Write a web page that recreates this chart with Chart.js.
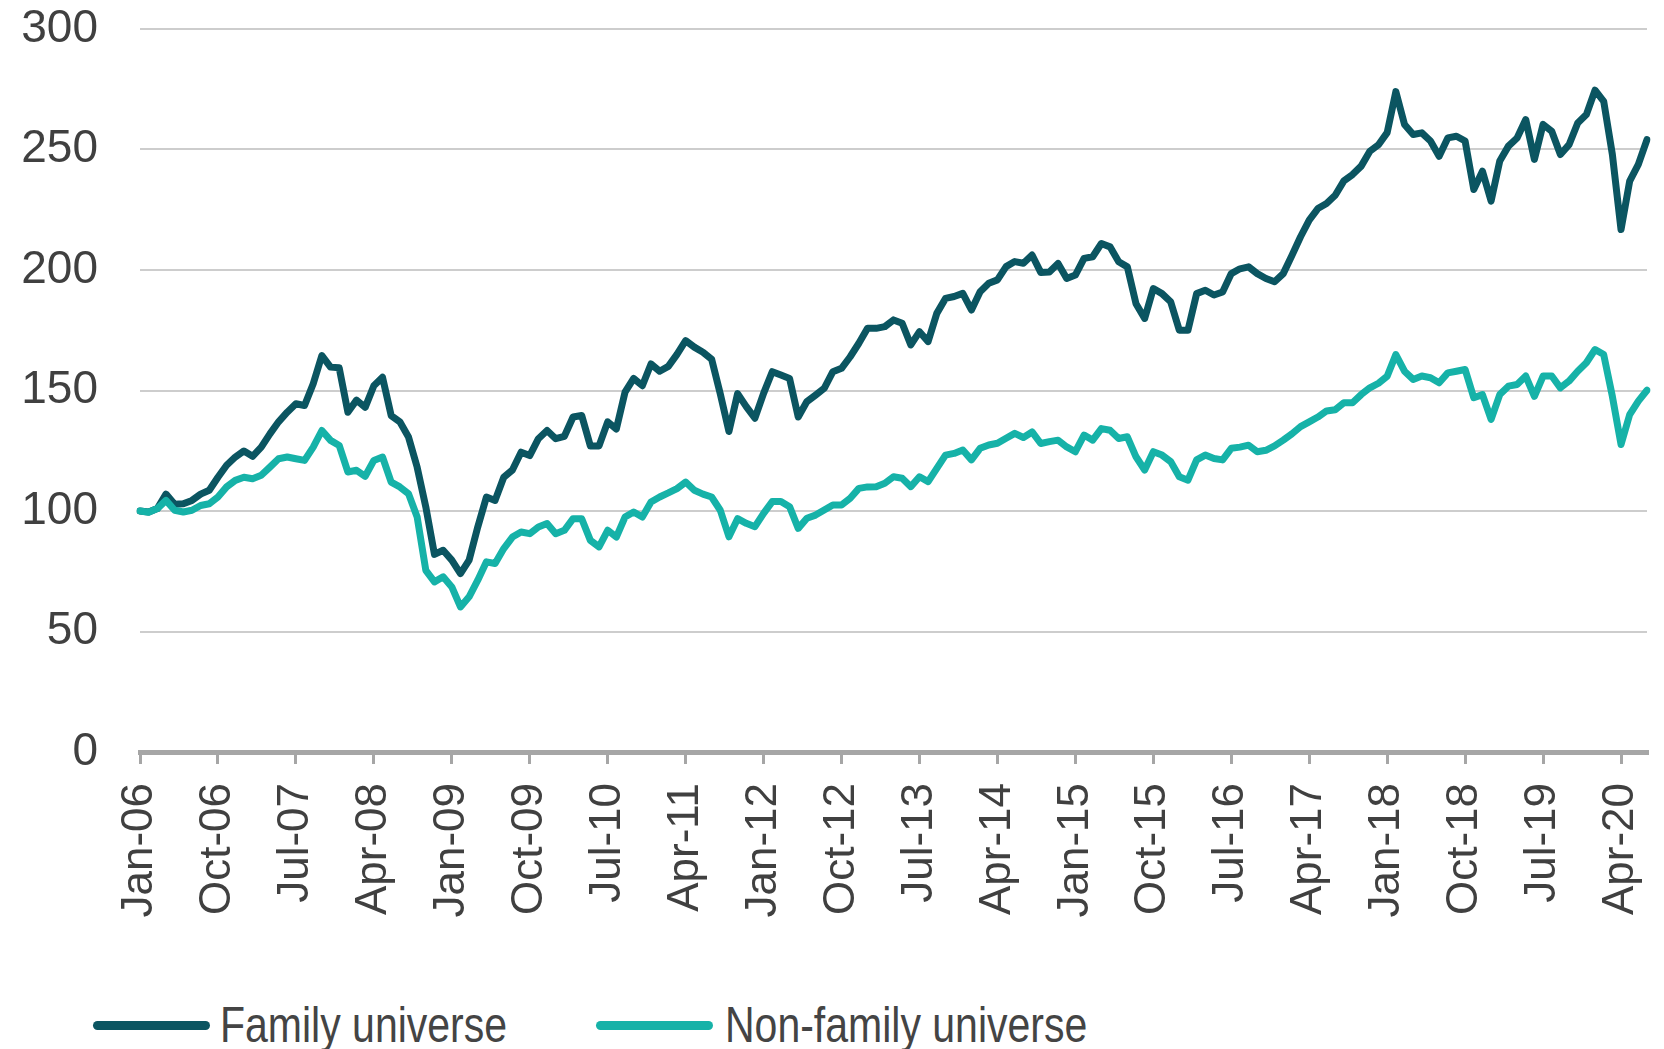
<!DOCTYPE html>
<html>
<head>
<meta charset="utf-8">
<script src="https://cdn.jsdelivr.net/npm/chart.js@4.4.1/dist/chart.umd.min.js"></script>
<style>
    html, body { margin: 0; padding: 0; background: #fff; }
    body { width: 1664px; height: 1049px; position: relative; overflow: hidden; }
    #wrap { position: absolute; left: 0; top: 0; width: 1664px; height: 960px; }
    .legend-text {
        position: absolute;
        font-family: 'Liberation Sans', Arial, sans-serif;
        font-size: 50px;
        line-height: 50px;
        color: #444;
        white-space: nowrap;
        transform: scaleX(0.82);
        transform-origin: 0 0;
    }
    .swatch { position: absolute; height: 9px; border-radius: 5px; }
</style>
</head>
<body>
<div id="wrap"><canvas id="chart"></canvas></div>
<div id="legend"></div>
<script>
// Series values, one per month, rebased to 100
const family = [
    100, 99.6, 101, 107, 102.8, 103, 104.4, 107, 108.6, 114,
    119, 122.4, 124.9, 122.7, 126.5, 132, 137, 141, 144.5, 143.8,
    152.8, 164.5, 159.7, 159.4, 141, 146, 143, 152, 155.5, 139.6,
    137, 130.7, 118.2, 101.7, 82, 83.7, 79.6, 74, 79.6, 93.4,
    105.8, 104.4, 114, 117, 124.4, 123, 130, 133.4, 130, 131,
    139, 139.6, 127, 127, 137, 134, 149.3, 155, 152, 161,
    158, 160, 165, 170.7, 168, 165.9, 163, 148.6, 133, 148.7,
    143.3, 138.5, 148.8, 157.8, 156.4, 155, 139, 145.4, 148.1, 150.9,
    157.8, 159.2, 164, 169.6, 175.8, 175.8, 176.5, 179.3, 177.9, 168.9,
    174.4, 170.3, 182, 188.2, 189, 190.3, 183.4, 191, 194.5, 195.9,
    201.4, 203.5, 202.8, 206.2, 199, 199.2, 202.7, 196.5, 197.9, 204.8,
    205.5, 211, 209.6, 203.4, 201.3, 186, 179.9, 192.3, 190.2, 186.8,
    175, 175, 190.2, 191.6, 189.6, 190.9, 198.5, 200.5, 201.3, 198.5,
    196.5, 195.1, 198.5, 206, 213.8, 220.7, 225.5, 227.6, 231, 237,
    239.6, 243.1, 249.3, 252, 257, 274, 260.4, 256.2, 256.9, 253.5,
    247.2, 254.8, 255.5, 253.5, 233.4, 241, 228.6, 245.2, 251.4, 254.8,
    262.4, 245.9, 260.4, 257.6, 247.9, 252, 261, 264.5, 274.6, 270,
    248, 216.8, 236.9, 243.8, 254.1
];

const nonFamily = [
    100, 99.5, 101, 104.4, 100.3, 99.6, 100.3, 102.3, 103, 105.8,
    110, 112.7, 114, 113.4, 114.8, 118.2, 121.7, 122.4, 121.7, 121,
    126.5, 133.4, 129.3, 127.2, 116.2, 116.9, 114.4, 121, 122.4, 112,
    110, 107.2, 97.5, 75.4, 70.6, 72.7, 68.5, 60.2, 64.4, 71.3,
    78.9, 78.2, 84.4, 89.2, 91.3, 90.6, 93.4, 94.8, 90.6, 92,
    96.8, 96.8, 87.8, 85.1, 92, 89.2, 97.5, 99.6, 97.5, 103.7,
    105.8, 107.5, 109.3, 112, 108.6, 107, 105.8, 100.3, 89.3, 96.8,
    94.9, 93.5, 99, 103.9, 103.9, 101.8, 92.8, 97, 98.3, 100.4,
    102.5, 102.5, 105.3, 109.4, 110, 110.1, 111.5, 114.2, 113.6, 110.1,
    114.2, 112.2, 117.7, 123.2, 123.9, 125.3, 121.2, 126, 127.4, 128.1,
    130.2, 132.2, 130.5, 132.8, 128, 128.8, 129.4, 126.6, 124.6, 131.5,
    129.4, 134.2, 133.5, 130.1, 130.8, 122.5, 117, 124.6, 123.2, 120.5,
    114.2, 112.8, 121.2, 123.2, 121.8, 121.2, 126, 126.5, 127.3, 124.6,
    125.2, 127, 129.4, 132, 135, 137, 139, 141.5, 142, 144.9,
    144.9, 148.3, 151.1, 153, 155.9, 164.9, 158, 154.6, 156, 155.3,
    153.2, 157.3, 158, 158.7, 147, 148.3, 138, 148.3, 151.8, 152.5,
    156, 147.6, 156, 156, 151.1, 153.9, 158, 161.5, 167, 164.9,
    147.6, 127.6, 140, 145.6, 150.1
];

// Month labels, a tick every nine months
const MONTHS = ['Jan', 'Feb', 'Mar', 'Apr', 'May', 'Jun', 'Jul', 'Aug', 'Sep', 'Oct', 'Nov', 'Dec'];
const START_YEAR = 2006;
const TICK_EVERY = 9;
const labels = family.map((v, i) => {
    const yr = (START_YEAR + Math.floor(i / 12)) % 100;
    return MONTHS[i % 12] + '-' + String(yr).padStart(2, '0');
});

const yTicks = [0, 50, 100, 150, 200, 250, 300];

const FAMILY_COLOR = '#0b5561';
const NONFAMILY_COLOR = '#16b2a8';
const TEXT_COLOR = '#404040';
const AXIS_COLOR = '#a6a6a6';

const ctx = document.getElementById('chart').getContext('2d');
const chart = new Chart(ctx, {
    type: 'line',
    data: {
        labels: labels,
        datasets: [
            {
                label: 'Family universe',
                data: family,
                borderColor: FAMILY_COLOR,
                borderWidth: 7,
                pointRadius: 0,
                tension: 0,
                borderJoinStyle: 'round',
                borderCapStyle: 'round',
                order: 1
            },
            {
                label: 'Non-family universe',
                data: nonFamily,
                borderColor: NONFAMILY_COLOR,
                borderWidth: 7,
                pointRadius: 0,
                tension: 0,
                borderJoinStyle: 'round',
                borderCapStyle: 'round',
                order: 0
            }
        ]
    },
    options: {
        responsive: true,
        maintainAspectRatio: false,
        animation: false,
        layout: {
            padding: { top: 29, right: 17, bottom: 0, left: 0 }
        },
        plugins: {
            legend: { display: false },
            tooltip: { enabled: false }
        },
        scales: {
            x: {
                offset: false,
                grid: {
                    drawOnChartArea: false,
                    drawTicks: true,
                    tickLength: 12,
                    lineWidth: 3,
                    color: (c) => (c.index % TICK_EVERY === 0 ? AXIS_COLOR : 'transparent')
                },
                border: { display: true, color: AXIS_COLOR, width: 5 },
                ticks: {
                    autoSkip: false,
                    maxRotation: 90,
                    minRotation: 90,
                    padding: 19,
                    color: TEXT_COLOR,
                    font: { family: "'Liberation Sans', Arial, sans-serif", size: 44 },
                    callback: function (value, index) {
                        return index % TICK_EVERY === 0 ? labels[index] : '';
                    }
                },
                afterFit: (scale) => {
                    scale.height = 208;
                    scale.paddingLeft = 0;
                    scale.paddingRight = 0;
                }
            },
            y: {
                min: 0,
                max: 300,
                afterBuildTicks: (scale) => {
                    scale.ticks = yTicks.map(v => ({ value: v }));
                },
                grid: {
                    color: '#cdcdcd',
                    lineWidth: 2,
                    drawTicks: false
                },
                border: { display: false },
                ticks: {
                    padding: 42,
                    color: TEXT_COLOR,
                    font: { family: "'Liberation Sans', Arial, sans-serif", size: 46 }
                },
                afterFit: (scale) => {
                    scale.width = 140;
                    scale.paddingTop = 0;
                    scale.paddingBottom = 0;
                }
            }
        }
    }
});

// Legend drawn as plain HTML below the canvas
const legend = document.getElementById('legend');
const legendPos = [
    { swatch: 93, text: 220 },
    { swatch: 596, text: 725 }
];
chart.data.datasets.forEach((ds, i) => {
    const sw = document.createElement('div');
    sw.className = 'swatch';
    sw.style.left = legendPos[i].swatch + 'px';
    sw.style.top = '1021px';
    sw.style.width = '117px';
    sw.style.background = ds.borderColor;
    legend.appendChild(sw);

    const tx = document.createElement('div');
    tx.className = 'legend-text';
    tx.style.left = legendPos[i].text + 'px';
    tx.style.top = '1000px';
    tx.textContent = ds.label;
    legend.appendChild(tx);
});
</script>
</body>
</html>
